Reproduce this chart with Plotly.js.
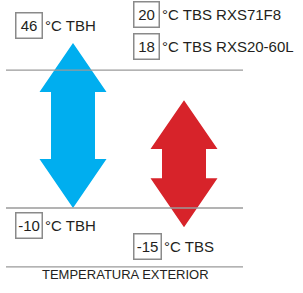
<!DOCTYPE html>
<html><head><meta charset="utf-8">
<script src="https://cdn.plot.ly/plotly-3.0.1.min.js"></script>
<style>html,body{margin:0;padding:0;background:#fff;}#chart{width:303px;height:293px;}</style>
</head><body><div id="chart"></div>
<script>
// Data
var arrowNames = ['TBH', 'TBS'];
var arrowX = [73, 184];            // horizontal position of each arrow (diagram units)
var arrowTop = [46, 26.6];         // arrow tip (temperature-scale units)
var arrowBottom = [-10, -16.5];    // arrow bottom tip
var arrowColors = ['#00AEEF', '#D7232A'];
var limitValues = ['46', '20', '18', '-10', '-15'];
var limitTexts = ['°C TBH', '°C TBS RXS71F8', '°C TBS RXS20-60L', '°C TBH', '°C TBS'];
var refLines = [36.8, -10, -30];
var axisLabel = 'TEMPERATURA EXTERIOR';

// Layout constants (style)
var headLen = 16.6, headHalf = 33.5, shaftHalf = 22;
var boxX = [28.5, 146, 146, 28.5, 147];      // pixel-ish x of boxes
var boxY = [26, 14, 46.5, 225.5, 246.5];     // pixel y of label centers
var boxW = [25, 24, 24, 25, 26];
var font = 'Liberation Sans, Arial, sans-serif';

var traces = [];
for (var i = 0; i < arrowNames.length; i++) {
  var cx = arrowX[i], t = arrowTop[i], b = arrowBottom[i];
  var xs = [cx, cx + headHalf, cx + shaftHalf, cx + shaftHalf, cx + headHalf, cx, cx - headHalf, cx - shaftHalf, cx - shaftHalf, cx - headHalf, cx];
  var ys = [t, t - headLen, t - headLen, b + headLen, b + headLen, b, b + headLen, b + headLen, t - headLen, t - headLen, t];
  traces.push({type: 'scatter', mode: 'lines', x: xs, y: ys, fill: 'toself',
    fillcolor: arrowColors[i], line: {width: 0, color: arrowColors[i]}, hoverinfo: 'skip', name: arrowNames[i]});
}

var shapes = refLines.map(function (v) {
  return {type: 'line', xref: 'x', yref: 'y', x0: 6, x1: 243, y0: v, y1: v, line: {color: '#9a9a9a', width: 1.3}};
});

var annotations = [];
for (var j = 0; j < limitValues.length; j++) {
  var py = 1 - boxY[j] / 293;
  annotations.push({xref: 'x', yref: 'paper', x: boxX[j], y: py, text: limitValues[j], showarrow: false,
    xanchor: 'center', yanchor: 'middle', width: boxW[j], height: 24, borderwidth: 1.5, bordercolor: '#8a8a8a', borderpad: 0,
    font: {family: font, size: 15, color: '#231F20'}});
  annotations.push({xref: 'x', yref: 'paper', x: boxX[j] + boxW[j] / 2 + 2, y: py, text: limitTexts[j], showarrow: false,
    xanchor: 'left', yanchor: 'middle', font: {family: font, size: 15, color: '#231F20'}});
}
annotations.push({xref: 'x', yref: 'paper', x: 125, y: 1 - 274 / 293, text: axisLabel, showarrow: false,
  xanchor: 'center', yanchor: 'middle', font: {family: font, size: 13, color: '#231F20'}});

var layout = {
  width: 303, height: 293, margin: {l: 0, r: 0, t: 0, b: 0},
  paper_bgcolor: '#fff', plot_bgcolor: '#fff', showlegend: false,
  xaxis: {range: [0, 303], visible: false, fixedrange: true},
  yaxis: {range: [-38.86, 60.6], visible: false, fixedrange: true},
  shapes: shapes, annotations: annotations
};
Plotly.newPlot('chart', traces, layout, {staticPlot: true, displayModeBar: false});
</script>
</body></html>
